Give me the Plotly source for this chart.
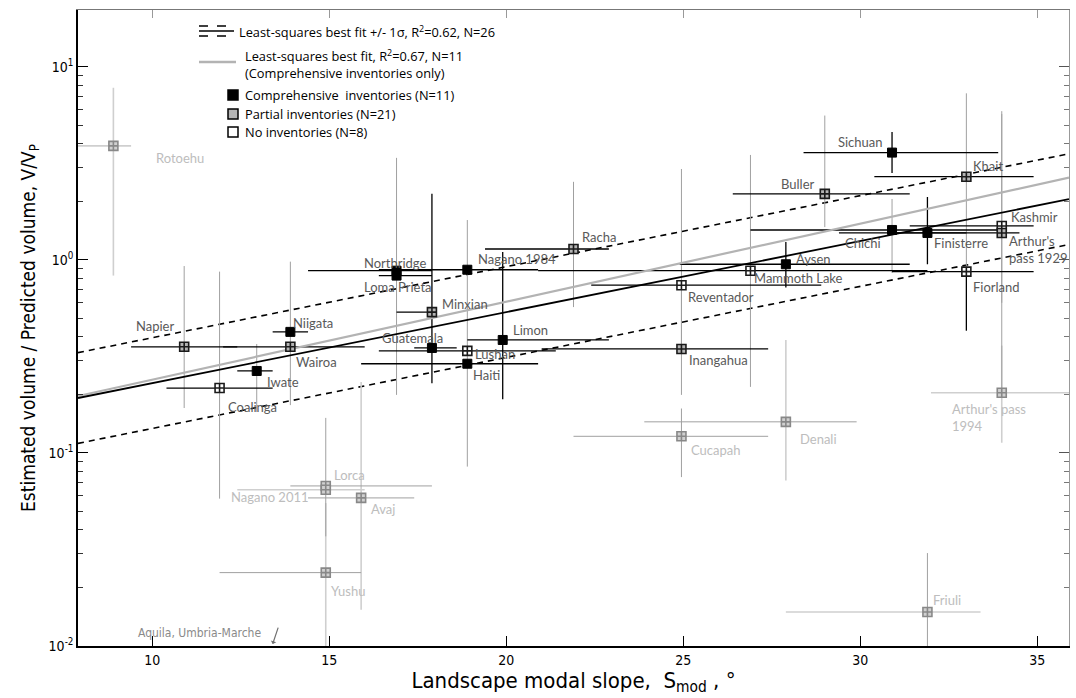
import math
import plotly.graph_objects as go

# ---------------- data ----------------
names = ["Sichuan", "Khait", "Buller", "Kashmir", "Arthur's<br>pass 1929", "Chichi", "Finisterre",
         "Aysen", "Mammoth Lake", "Reventador", "Fiorland", "Inangahua", "Racha", "Nagano 1984",
         "Northridge", "Loma Prieta", "Minxian", "Guatemala", "Lushan", "Haiti", "Limon", "Napier",
         "Niigata", "Wairoa", "Iwate", "Coalinga", "Rotoehu", "Lorca", "Nagano 2011", "Avaj",
         "Yushu", "Cucapah", "Denali", "Arthur's pass<br>1994", "Friuli"]
slope = [30.9, 33, 29, 34, 34, 30.9, 31.9, 27.9, 26.9, 24.95, 33, 24.95, 21.9, 18.9, 16.9,
         16.9, 17.9, 17.9, 18.9, 18.9, 19.9, 10.9, 13.9, 13.9, 12.95, 11.9, 8.9, 14.9, 14.9,
         15.9, 14.9, 24.95, 27.9, 34, 31.9]
ratio = [3.6, 2.7, 2.2, 1.5, 1.38, 1.43, 1.38, 0.95, 0.88, 0.74, 0.87, 0.346, 1.14, 0.89, 0.88,
         0.83, 0.537, 0.35, 0.338, 0.29, 0.385, 0.355, 0.424, 0.355, 0.266, 0.217, 3.9, 0.0675,
         0.0645, 0.0585, 0.024, 0.122, 0.145, 0.205, 0.015]
slope_lo = [28.4, 30.4, 26.4, 31.4, 31.0, 26.9, 29.4, 24.9, 20.9, 22.4, 30.9, 21.0, 19.4, 16.4,
            14.4, 16.4, 16.9, 17.4, 16.4, 15.9, 18.9, 9.4, 13.4, 12.0, 12.4, 10.4, 7.9, 13.9, 12.4,
            14.4, 11.9, 21.9, 23.9, 32.0, 27.9]
slope_hi = [33.9, 34.9, 31.4, 34.9, 34.5, 34.0, 33.0, 31.4, 31.9, 28.9, 34.9, 27.4, 22.9, 20.9,
            17.9, 17.9, 18.0, 18.6, 21.4, 20.9, 22.9, 12.4, 14.4, 16.0, 13.4, 13.4, 9.4, 17.9, 16.0,
            17.4, 15.9, 27.4, 29.9, 36.5, 33.4]
ratio_lo = [2.82, 0.9, 1.48, 0.6, 0.2, 0.857, 0.95, 0.72, 0.22, 0.35, 0.43, 0.2, 0.57, 0.085,
            0.2, 0.83, 0.537, 0.23, 0.338, 0.29, 0.19, 0.171, 0.424, 0.177, 0.163, 0.058, 0.83,
            0.037, 0.0645, 0.0154, 0.0095, 0.075, 0.072, 0.113, 0.0095]
ratio_hi = [4.6, 7.3, 5.6, 5.7, 5.9, 2.07, 2.12, 1.24, 3.5, 2.96, 0.87, 0.74, 2.54, 1.61, 3.38,
            0.83, 0.537, 2.2, 0.338, 0.29, 1.1, 0.93, 0.424, 0.98, 0.367, 0.87, 7.8, 0.152,
            0.0645, 0.233, 0.055, 0.17, 0.385, 0.36, 0.0303]
# comp = comprehensive, part = partial, none = no inventory, faint = partial (greyed)
inventory = ["comp", "part", "part", "none", "part", "comp", "comp", "comp", "none", "none",
             "none", "part", "part", "comp", "comp", "comp", "part", "comp", "none", "comp",
             "comp", "part", "comp", "part", "comp", "none", "faint", "faint", "faint", "faint",
             "faint", "faint", "faint", "faint", "faint"]
hbar_tone = ["k", "k", "k", "k", "k", "k", "k", "k", "k", "k", "k", "k", "k", "k", "k", "k", "k",
             "k", "k", "k", "k", "k", "k", "k", "k", "k", "l", "g", "l", "g", "g", "g", "g", "l", "l"]
vbar_tone = ["k", "g", "g", "g", "g", "g", "k", "k", "g", "g", "k", "g", "g", "g", "g", "g", "g",
             "k", "g", "g", "k", "g", "g", "g", "g", "g", "l", "g", "l", "l", "l", "g", "l", "l", "g"]

# least-squares fits, log10(V/Vp) = intercept + slope * S
FIT_ALL = (-1.006, 0.0368)
FIT_SIGMA = 0.235
FIT_COMP = (-1.024, 0.0404)
X_RANGE = [7.9, 35.9]

# ---------------- styles ----------------
TONE = {"k": ("#000000", 1.3), "g": ("#a0a0a0", 1.0), "l": ("#cfcfcf", 1.6)}
FILL = {"comp": "#000000", "part": "#b4b4b4", "none": "#ffffff", "faint": "#d0d0d0"}
BORDER = {"comp": "#000000", "part": "#1a1a1a", "none": "#1a1a1a", "faint": "#888888"}
LABEL_COLOR = {"comp": "#595959", "part": "#595959", "none": "#595959", "faint": "#bdbdbd"}

# label offsets in pixels (dx right, dy down) and anchor
LABEL_POS = {
    "Sichuan": (-7, -11, "right"), "Khait": (5, -11, "left"), "Buller": (-8, -10, "right"),
    "Kashmir": (7, -9, "left"), "Arthur's<br>pass 1929": (5, 17, "left"), "Chichi": (-9, 13, "right"),
    "Finisterre": (5, 10, "left"), "Aysen": (8, -5, "left"), "Mammoth Lake": (2, 7, "left"),
    "Reventador": (5, 12, "left"), "Fiorland": (5, 15, "left"), "Inangahua": (6, 11, "left"),
    "Racha": (6, -12, "left"), "Nagano 1984": (9, -11, "left"), "Northridge": (-1, -8, "center"),
    "Loma Prieta": (1, 11, "center"), "Minxian": (8, -8, "left"), "Guatemala": (-19, -10, "center"),
    "Lushan": (6, 3, "left"), "Haiti": (4, 11, "left"), "Limon": (8, -10, "left"),
    "Napier": (-8, -21, "right"), "Niigata": (1, -9, "left"), "Wairoa": (4, 15, "left"),
    "Iwate": (8, 11, "left"), "Coalinga": (6, 19, "left"), "Rotoehu": (41, 12, "left"),
    "Lorca": (6, -11, "left"), "Nagano 2011": (-15, 7, "right"), "Avaj": (8, 11, "left"),
    "Yushu": (3, 18, "left"), "Cucapah": (8, 14, "left"), "Denali": (12, 17, "left"),
    "Arthur's pass<br>1994": (-52, 25, "left"), "Friuli": (4, -12, "left"),
}

LABEL_FONT = "Lato, 'Noto Sans', sans-serif"
AXIS_FONT = "'Liberation Sans Narrow', 'DejaVu Sans Condensed', 'Roboto Condensed', sans-serif"

fig = go.Figure()

# fit lines
xl = X_RANGE
def fit_line(a, b, off=0.0):
    return [10 ** (a + off + b * x) for x in xl]

fig.add_trace(go.Scatter(x=xl, y=fit_line(*FIT_ALL, FIT_SIGMA), mode="lines",
                         line=dict(color="black", width=1.6, dash="6px,5px"), hoverinfo="skip"))
fig.add_trace(go.Scatter(x=xl, y=fit_line(*FIT_ALL, -FIT_SIGMA), mode="lines",
                         line=dict(color="black", width=1.6, dash="6px,5px"), hoverinfo="skip"))

# error bars, grouped by tone (faint first so dark bars are on top)
n = len(names)
for tone in ["l", "g", "k"]:
    col, w = TONE[tone]
    idx = [i for i in range(n) if vbar_tone[i] == tone]
    if idx:
        fig.add_trace(go.Scatter(
            x=[slope[i] for i in idx], y=[ratio[i] for i in idx], mode="markers",
            marker=dict(size=1, opacity=0), hoverinfo="skip",
            error_y=dict(type="data", symmetric=False,
                         array=[ratio_hi[i] - ratio[i] for i in idx],
                         arrayminus=[ratio[i] - ratio_lo[i] for i in idx],
                         color=col, thickness=w, width=0)))
    idx = [i for i in range(n) if hbar_tone[i] == tone]
    if idx:
        fig.add_trace(go.Scatter(
            x=[slope[i] for i in idx], y=[ratio[i] for i in idx], mode="markers",
            marker=dict(size=1, opacity=0), hoverinfo="skip",
            error_x=dict(type="data", symmetric=False,
                         array=[slope_hi[i] - slope[i] for i in idx],
                         arrayminus=[slope[i] - slope_lo[i] for i in idx],
                         color=col, thickness=w, width=0)))

fig.add_trace(go.Scatter(x=xl, y=fit_line(*FIT_COMP), mode="lines",
                         line=dict(color="#b3b3b3", width=2.2), hoverinfo="skip"))
fig.add_trace(go.Scatter(x=xl, y=fit_line(*FIT_ALL), mode="lines",
                         line=dict(color="black", width=1.8), hoverinfo="skip"))

# markers
for cat in ["faint", "none", "part", "comp"]:
    idx = [i for i in range(n) if inventory[i] == cat]
    sym = "square" if cat == "comp" else "square-cross"
    fig.add_trace(go.Scatter(
        x=[slope[i] for i in idx], y=[ratio[i] for i in idx], mode="markers",
        marker=dict(symbol=sym, size=9, color=FILL[cat],
                    line=dict(color=BORDER[cat], width=1.6 if cat != "comp" else 1)),
        text=[names[i] for i in idx], hoverinfo="text"))

# labels
annotations = []
for i in range(n):
    dx, dy, anc = LABEL_POS[names[i]]
    annotations.append(dict(
        x=slope[i], y=math.log10(ratio[i]), xref="x", yref="y", text=names[i],
        showarrow=False, xanchor=anc, yanchor="middle", xshift=dx, yshift=-dy,
        align="left", font=dict(family=LABEL_FONT, size=13, color=LABEL_COLOR[inventory[i]])))

# ---------------- legend (drawn manually) ----------------
L, R, T, B = 78, 1069, 10, 646
def px(xp):
    return (xp - L) / (R - L)
def py(yp):
    return (B - yp) / (B - T)

shapes = []
for yy, dash in [(26, "dash"), (31, "solid"), (36, "dash")]:
    shapes.append(dict(type="line", xref="paper", yref="paper", x0=px(199), x1=px(234),
                       y0=py(yy), y1=py(yy), line=dict(color="black", width=1.6, dash=dash)))
shapes.append(dict(type="line", xref="paper", yref="paper", x0=px(199), x1=px(236),
                   y0=py(62), y1=py(62), line=dict(color="#b3b3b3", width=2.5)))
for yy, cat in [(95, "comp"), (114, "part"), (132, "none")]:
    shapes.append(dict(type="rect", xref="paper", yref="paper", x0=px(228), x1=px(238),
                       y0=py(yy + 5), y1=py(yy - 5), fillcolor=FILL[cat],
                       line=dict(color="black", width=1.5)))

LEG_FONT = dict(family="'Open Sans', 'Noto Sans', sans-serif", size=12.8, color="black")
for text, xx, yy in [
    ("Least-squares best fit +/- 1σ, R<sup>2</sup>=0.62, N=26", 237, 31),
    ("Least-squares best fit, R<sup>2</sup>=0.67, N=11", 243, 56),
    ("(Comprehensive inventories only)", 243, 73),
    ("Comprehensive  inventories (N=11)", 243, 95),
    ("Partial inventories (N=21)", 243, 114),
    ("No inventories (N=8)", 243, 132),
]:
    annotations.append(dict(x=px(xx), y=py(yy), xref="paper", yref="paper", text=text,
                            showarrow=False, xanchor="left", yanchor="middle", font=LEG_FONT))

# Aquila, Umbria-Marche note
annotations.append(dict(x=px(263), y=py(633), xref="paper", yref="paper",
                        text="Aquila, Umbria-Marche", showarrow=False, xanchor="right",
                        yanchor="middle", font=dict(family=AXIS_FONT, size=12, color="#8a8a8a")))
annotations.append(dict(x=13.4, y=-1.99, xref="x", yref="y", ax=6, ay=-18, text="",
                        showarrow=True, arrowhead=1, arrowsize=0.8, arrowwidth=1.2,
                        arrowcolor="#707070"))

# top/right frame as secondary axes
fig.add_trace(go.Scatter(x=[20], y=[1], xaxis="x2", yaxis="y2", mode="markers",
                         marker=dict(opacity=0), hoverinfo="skip"))

tickfont = dict(family=AXIS_FONT, size=14, color="black")
fig.update_layout(
    width=1076, height=698, autosize=False,
    margin=dict(l=L, r=1076 - R, t=T, b=698 - B),
    paper_bgcolor="white", plot_bgcolor="white", showlegend=False,
    xaxis=dict(range=X_RANGE, tickvals=[10, 15, 20, 25, 30, 35], ticks="inside", ticklen=10,
               tickwidth=1, tickcolor="black", showline=True, linecolor="black", linewidth=1.5,
               showgrid=False, zeroline=False, tickfont=tickfont,
               title=dict(text="Landscape modal slope,  S<sub>mod</sub> , °",
                          font=dict(family=AXIS_FONT, size=22, color="black"), standoff=3)),
    yaxis=dict(type="log", range=[-2, 1.295], tickvals=[0.01, 0.1, 1, 10],
               ticktext=["10<sup>-2</sup>", "10<sup>-1</sup>", "10<sup>0</sup>", "10<sup>1</sup>"],
               ticks="inside", ticklen=10, tickcolor="black", showline=True, linecolor="black",
               linewidth=1.5, showgrid=False, zeroline=False, tickfont=tickfont,
               minor=dict(ticks="inside", ticklen=5, tickcolor="#333", dtick="D1", showgrid=False),
               title=dict(text="Estimated volume / Predicted volume, V/V<sub>P</sub>",
                          font=dict(family=AXIS_FONT, size=19, color="black"), standoff=8)),
    xaxis2=dict(range=X_RANGE, overlaying="x", side="top", tickvals=[10, 15, 20, 25, 30, 35],
                ticks="inside", ticklen=8, tickcolor="#999", showline=True, linecolor="#777",
                linewidth=1, showticklabels=False, showgrid=False, zeroline=False),
    yaxis2=dict(type="log", range=[-2, 1.295], overlaying="y", side="right",
                tickvals=[0.01, 0.1, 1, 10], ticks="inside", ticklen=10, tickcolor="#555",
                showline=True, linecolor="#999", linewidth=1, showticklabels=False,
                minor=dict(ticks="inside", ticklen=5, tickcolor="#777", dtick="D1", showgrid=False),
                showgrid=False, zeroline=False),
    shapes=shapes, annotations=annotations,
)

fig.write_html("out.html", config={"displayModeBar": False},
               post_script="document.body.style.margin='0';")
